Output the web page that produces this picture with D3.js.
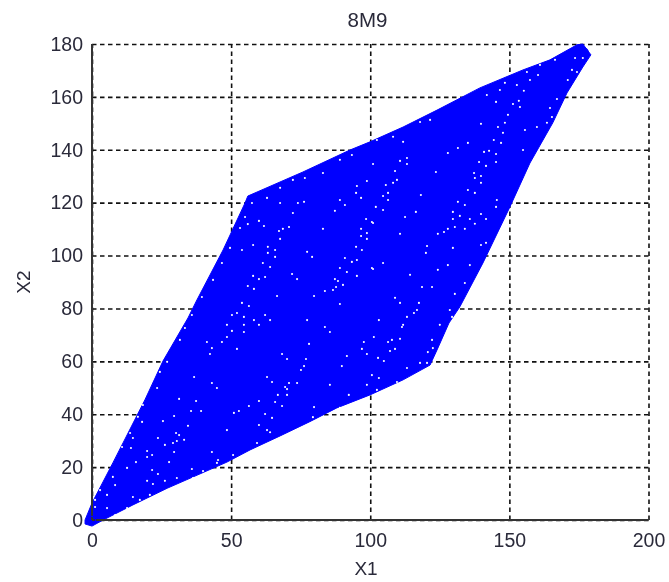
<!DOCTYPE html>
<html><head><meta charset="utf-8">
<style>html,body{margin:0;padding:0;background:#fff}svg{display:block;filter:blur(0.35px)}text{font-family:"Liberation Sans",Arial,sans-serif;fill:#2a2a3a}</style>
<script src="https://cdn.jsdelivr.net/npm/d3@7/dist/d3.min.js"></script>
</head><body><svg id="c" width="669" height="582"></svg>
<script>
const titleText = "8M9", xLabel = "X1", yLabel = "X2";
const xTicks = [0,50,100,150,200];
const yTicks = [0,20,40,60,80,100,120,140,160,180];
// Outer edge of the solid mass of markers
const outline = [[-2.5,0],[0,6.4],[7.5,21.6],[19,45.4],[25.5,60.1],[34.5,76.4],[37.7,83.2],[47.1,102.1],[55,119.9],[56,122.5],[75.8,131.6],[92.7,139.9],[99.9,143],[111.8,148.6],[124,155],[139.4,163.4],[154.9,170.2],[164.6,174],[174.3,179.7],[176.4,180],[179.3,175.9],[176.4,171.3],[170.7,161.5],[165.6,150.2],[157.4,135],[150.2,118.4],[140.5,97.2],[132.2,80.6],[128.3,74.5],[124,64.3],[121.5,58.6],[111.8,53],[99.9,47.3],[88,42.4],[78.3,37.2],[67.6,31.8],[56.8,26.5],[48.5,21.9],[27,12],[14.7,5.7],[4,0],[0,-2.3],[-2.5,-1.5]];
// Visible gaps between markers
const gaps = [[89.1,121],[90.9,119.1],[87.3,116.9],[74,119.9],[76.2,120.3],[72.2,116.1],[67.6,119.9],[60,113.1],[61.8,111.2],[56,111.9],[67.2,109.3],[68.6,110.1],[70.8,110.8],[67.6,106.3],[83,110.1],[96.7,110.1],[98.8,108.5],[96.7,107.4],[98.8,106.3],[98.5,113.8],[100.6,112.7],[95.2,126.3],[98.8,128.2],[94.9,123.7],[96.7,121.8],[94.9,103.3],[97,102.1],[77.3,101.4],[79.1,99.5],[63.2,103.3],[65.8,102.1],[63.2,101],[65.8,99.5],[57.9,104],[53.9,102.1],[61.4,97.2],[64,95.7],[90.9,99.1],[95.2,98.3],[93.4,97.6],[89.1,95.3],[91.6,93.8],[95.2,92.3],[100.6,95.3],[71.9,93],[73.7,91.1],[57.9,92.3],[60,91.1],[62.2,91.9],[56,88.5],[58.2,87.4],[66.5,84.7],[79.8,84.7],[87.3,91.1],[88.4,90.4],[90.2,88.9],[87.7,88.1],[86.6,87],[83.7,86.6],[53.9,82.1],[56.4,80.9],[89.1,81.7],[50.3,77.5],[52.1,78.3],[62.2,77.5],
[41.3,67.3],[43.1,65],[42.4,62.8],[46.7,67.3],[52.1,64.7],[48.5,73.8],[54.6,76.8],[58.2,75.6],[60,73.8],[54.6,73.8],[54.6,71.1],[50.3,71.5],[48.5,69.2],[64,75.6],[36.7,54.1],[43.1,51.8],[44.9,49.9],[62.9,54.1],[64.7,52.2],[31.3,45.8],[37.4,45],[35.6,41.2],[39.2,41.2],[29.5,39.3],[25.5,37.4],[34.5,35.6],[51,40.5],[52.8,41.2],[56.4,43.1],[60,45],[65.8,44.6],[62.2,40.1],[64.7,38.6],[60,35.9],[48.5,34],[62.9,34],[23.7,31],[30.2,32.9],[31.3,32.1],[29.1,29.1],[30.5,29.9],[33.1,30.3],[26.2,28.4],[19.8,26.1],[21.6,24.6],[19.8,23.8],[29.5,25.7],[43.1,25.7],[27.7,21.9],
[110.7,82.1],[117.5,82.1],[113.2,76.8],[115.7,78.3],[116.8,79.4],[103.1,75.6],[77.3,75.6],[83.7,73],[85.5,71.1],[111.8,73.8],[111.4,73],[101.3,69.2],[110.7,68.5],[106.4,67.3],[107.8,68.1],[97.7,67.3],[97,64.7],[98.8,62.8],[78,66.6],[68.3,62.8],[70.1,60.9],[76.9,60.9],[76.2,58.2],[75.1,56.7],[91.6,62],[89.8,58.2],[102.8,61.3],[104.9,60.1],[107.1,63.9],[108.9,64.7],[100.6,54.8],[103.1,53.7],[113.2,57.5],[85.5,51.1],[73.7,51.8],[70.8,51.8],[69.4,50.3],[70.1,49.5],[66.8,47.3],[70.1,47.3],[68.3,43.1],[79.8,42.7],[92.3,47.3],[98.8,51.1],
[127.9,138.8],[131.5,140.7],[135.1,142.6],[139.8,149.8],[111.8,143],[113.2,136.9],[110.7,135.8],[113.2,134.6],[108.9,132],[123.6,131.6],[101,134.6],[109.6,128.6],[108.2,127.5],[105.6,126.7],[106.4,123.7],[104.6,122.5],[106.4,121],[102,118.4],[104.6,117.2],[118.2,122.9],[112.5,114.6],[116.4,116.5],[101,112.3],[110.7,108.2],[131.5,120.3],[134,119.1],[129.7,116.5],[132.2,115],[129.7,113.8],[135.8,113.8],[139.8,115.7],[141.6,113.8],[137.6,112],[135.1,124.8],[137.6,123.7],[139.8,130.1],[139.8,127.5],[137.3,131.2],[137.6,129.3],[139.1,135.4],[141.6,133.9],[140.9,139.2],[142.7,139.6],[145.2,138.4],[145.2,135.4],[144.4,143.7],[147,142.6],[154.9,139.9],[155.6,147.5],[145.5,121],[145.2,118.4],[134,110.1],[130.4,110.8],[127.9,110.1],[126.5,108.9],[124.3,108.2],[120.4,103.6],[120,101],[129.7,102.9],[104.6,97.2],[101,94.9],[127.9,96.4],[124.3,94.6],[114.3,92.7],[118.6,88.1],[122.2,88.1],[108.9,84],
[139.8,104],[141.6,104.8],[135.8,96.4],[134,89.6],[130.4,85.5],[128.6,79.4],[129.4,76.8],[125,73.8],[122.2,68.1],[120.7,63.5],[117.9,59.4],
[153.4,158.5],[153.8,156.2],[151.3,157.3],[145.2,158.1],[155.2,162.3],[149.5,153.2],[145.9,148.6],[148.4,150.2],[159.9,148.6],[167.1,159.2],[164.6,155.8],[165.3,152.4],[163.5,150.2],[173.6,174.7],[176.4,174.7],[172.5,170.2],[174.3,169.4],[171,166.4],[160.3,168.3],[157.4,166.4],[152.7,164.5],[146.6,162.6],[141.9,160.7],[166.4,174],[161,172.1],[156.3,169.4],[148.4,165.3],
[15.8,21.9],[14,27.2],[14.7,31],[18,37.1],[12.6,19.7],[21.6,18.9],[23.7,17.4],[19.8,14.8],[26.2,14.8],[21.9,13.6],[30.5,15.9],[35.9,19.3],[14.7,8.7],[5.4,4.5],[7.5,16.3],[5.4,9.5],[8.3,13.2],[2.9,11.3],[1.1,7.6],[1.1,4.9],[17.2,7.6],[20.8,9.5],[25.2,10.2],[30.5,12.5],[36.3,15.9],[39.9,18.5],[45.3,22.7],[8.3,1.9],[12.6,4.5],
[27,59.8],[24.4,56],[23.4,49.9],[18.3,43.5],[16.5,39],[13.7,32.9],[10.8,27.6],[31.6,68.1],[33.4,72.6],[35.9,77.5],[39.5,84.3],[43.5,90.8],[46.7,97.2],[49.6,102.9],[53.2,110.4],[55,114.6],[57.5,119.9],[62.9,121.8],[67.6,125.6],[72.2,128.6],[76.5,129.3],[83,131.2],[89.1,136.2],[93.4,138],
[108.2,144.9],[117.9,150.5],[121.5,151.3],[102.4,143.7],[147.7,146.4],[79.4,38.9],[89.1,42.4],[95.2,44.6],[102.4,49.2],[109.6,52.2],[116.8,54.8],[120.4,59.4],[122.5,65],[59.3,29.1],[50.7,24.6],[44.9,21.6],[64,33.2]];
// Isolated markers still seen as open circles at the two extreme corners
const openMarkers = [[0,0],[177,177]];

const svg = d3.select("#c");
const x = d3.scaleLinear().domain([0,200]).range([92,648.5]);
const y = d3.scaleLinear().domain([0,180]).range([520,44]);

const grid = svg.append("g");
const gx = grid.append("g").attr("transform","translate(0,520)")
  .call(d3.axisBottom(x).tickValues(xTicks).tickFormat(d3.format("d")).tickSize(-476).tickPadding(9.5));
const gy = grid.append("g").attr("transform","translate(92,0)")
  .call(d3.axisLeft(y).tickValues(yTicks).tickFormat(d3.format("d")).tickSize(-556.5).tickPadding(9));
[gx,gy].forEach(g=>{
  g.select(".domain").remove();
  g.selectAll("line").attr("stroke","#111").attr("stroke-width",1.6).attr("stroke-dasharray","4.5,3.5");
  g.selectAll("text").attr("font-size",19.5).attr("fill","#2a2a3a");
});
gx.selectAll("text").attr("dy","0.9em");

const line = d3.line().x(d=>x(d[0])).y(d=>y(d[1])).curve(d3.curveLinearClosed);
svg.append("path").datum(outline).attr("d",line).attr("fill","#0000ff").attr("stroke","#0000ff").attr("stroke-width",1).attr("stroke-linejoin","round");
svg.append("g").selectAll("circle").data(gaps).join("circle")
  .attr("cx",d=>x(d[0])).attr("cy",d=>y(d[1])).attr("r",1.05).attr("fill","#ffffff");

svg.append("line").attr("x1",x(0)).attr("x2",x(0)).attr("y1",y(180)).attr("y2",y(0)).attr("stroke","#333").attr("stroke-width",2);
svg.append("line").attr("x1",x(0)).attr("x2",x(200)).attr("y1",y(0)).attr("y2",y(0)).attr("stroke","#333").attr("stroke-width",2);
svg.append("g").selectAll("circle").data(openMarkers).join("circle")
  .attr("cx",d=>x(d[0])).attr("cy",d=>y(d[1])).attr("r",3.6).attr("fill","none").attr("stroke","#0000ff").attr("stroke-width",1.2);

svg.append("text").attr("x",367.5).attr("y",27).attr("text-anchor","middle").attr("font-size",20.5).text(titleText);
svg.append("text").attr("x",366).attr("y",575).attr("text-anchor","middle").attr("font-size",19).text(xLabel);
svg.append("text").attr("transform","translate(30,282) rotate(-90)").attr("text-anchor","middle").attr("font-size",19).text(yLabel);
</script></body></html>
